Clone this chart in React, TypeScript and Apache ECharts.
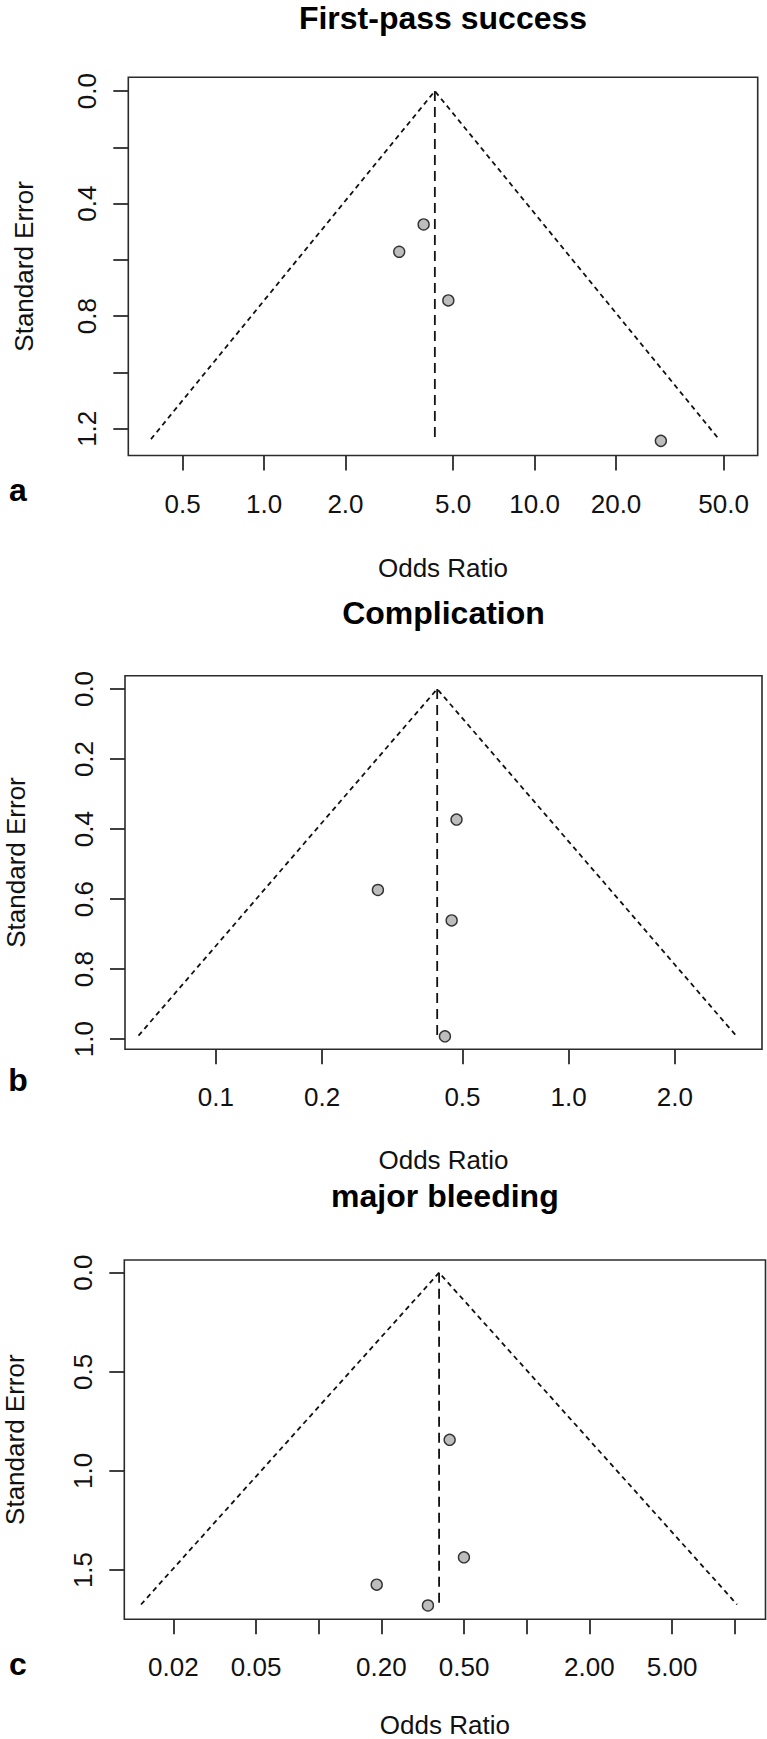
import React, { useEffect, useRef } from "react";
import * as echarts from "echarts";

// ---------- Data ----------
// Panel a: First-pass success
const orA = [3.89, 3.16, 4.8, 29.3];
const seA = [0.474, 0.571, 0.744, 1.243];
const funnelOrA = [0.382, 4.28, 48.0];
const funnelSeA = [1.237, 0, 1.237];
const xTicksA = [0.5, 1, 2, 5, 10, 20, 50];
const xLabelValsA = [0.5, 1, 2, 5, 10, 20, 50];
const xLabelsA = ["0.5", "1.0", "2.0", "5.0", "10.0", "20.0", "50.0"];
const yTicksA = [0, 0.2, 0.4, 0.6, 0.8, 1.0, 1.2];
const yLabelValsA = [0, 0.4, 0.8, 1.2];
const xRangeA = [0.315, 66.8];
const yRangeA = [-0.049, 1.295];

// Panel b: Complication
const orB = [0.481, 0.288, 0.466, 0.446];
const seB = [0.373, 0.574, 0.661, 0.992];
const funnelOrB = [0.0604, 0.424, 2.98];
const funnelSeB = [0.99, 0, 0.99];
const xTicksB = [0.1, 0.2, 0.5, 1, 2];
const xLabelValsB = [0.1, 0.2, 0.5, 1, 2];
const xLabelsB = ["0.1", "0.2", "0.5", "1.0", "2.0"];
const yTicksB = [0, 0.2, 0.4, 0.6, 0.8, 1.0];
const yLabelValsB = [0, 0.2, 0.4, 0.6, 0.8, 1.0];
const xRangeB = [0.0553, 3.53];
const yRangeB = [-0.038, 1.029];

// Panel c: major bleeding
const orC = [0.426, 0.499, 0.19, 0.335];
const seC = [0.843, 1.436, 1.574, 1.679];
const funnelOrC = [0.01398, 0.379, 10.26];
const funnelSeC = [1.674, 0, 1.674];
const xTicksC = [0.02, 0.05, 0.1, 0.2, 0.5, 1, 2, 5, 10];
const xLabelValsC = [0.02, 0.05, 0.2, 0.5, 2, 5];
const xLabelsC = ["0.02", "0.05", "0.20", "0.50", "2.00", "5.00"];
const yTicksC = [0, 0.5, 1.0, 1.5];
const yLabelValsC = [0, 0.5, 1.0, 1.5];
const xRangeC = [0.01162, 14.06];
const yRangeC = [-0.0641, 1.7487];

const titles = ["First-pass success", "Complication", "major bleeding"];
const letters = ["a", "b", "c"];
const xTitle = "Odds Ratio";
const yTitle = "Standard Error";

// ---------- Layout ----------
const FONT = "'Liberation Sans', Arial, sans-serif";
const W = 767;
const H = 1739;

const panels = [
  {
    grid: { left: 128.3, top: 77.3, width: 629.4, height: 378.2 },
    titleY: 18, xTitleY: 568, yTitleX: 24, letterY: 490,
    or: orA, se: seA, fOr: funnelOrA, fSe: funnelSeA,
    xTicks: xTicksA, xLabelVals: xLabelValsA, xLabels: xLabelsA,
    yTicks: yTicksA, yLabelVals: yLabelValsA, xRange: xRangeA, yRange: yRangeA,
  },
  {
    grid: { left: 125, top: 675.7, width: 637, height: 373.6 },
    titleY: 613, xTitleY: 1160, yTitleX: 16, letterY: 1080,
    or: orB, se: seB, fOr: funnelOrB, fSe: funnelSeB,
    xTicks: xTicksB, xLabelVals: xLabelValsB, xLabels: xLabelsB,
    yTicks: yTicksB, yLabelVals: yLabelValsB, xRange: xRangeB, yRange: yRangeB,
  },
  {
    grid: { left: 124.3, top: 1260, width: 641.2, height: 359.3 },
    titleY: 1196, xTitleY: 1725, yTitleX: 15, letterY: 1664,
    or: orC, se: seC, fOr: funnelOrC, fSe: funnelSeC,
    xTicks: xTicksC, xLabelVals: xLabelValsC, xLabels: xLabelsC,
    yTicks: yTicksC, yLabelVals: yLabelValsC, xRange: xRangeC, yRange: yRangeC,
  },
];

const AXIS_COLOR = "#2b2b2b";

function buildOption() {
  const grids: any[] = [];
  const xAxes: any[] = [];
  const yAxes: any[] = [];
  const series: any[] = [];
  const graphics: any[] = [];

  panels.forEach((p, i) => {
    grids.push({
      left: p.grid.left,
      top: p.grid.top,
      width: p.grid.width,
      height: p.grid.height,
      show: true,
      borderColor: AXIS_COLOR,
      borderWidth: 1.6,
      backgroundColor: "transparent",
      containLabel: false,
      outerBoundsMode: "none",
    });
    // data axis (log scale)
    xAxes.push({
      type: "log",
      logBase: 10,
      gridIndex: i,
      min: p.xRange[0],
      max: p.xRange[1],
      show: false,
      axisLine: { onZero: false },
    });
    // tick/label axis in log10 space, aligned with the log axis
    const labelMap = p.xLabelVals.map((v) => Math.log10(v));
    xAxes.push({
      type: "value",
      gridIndex: i,
      position: "bottom",
      min: Math.log10(p.xRange[0]),
      max: Math.log10(p.xRange[1]),
      axisLine: { show: false, onZero: false },
      splitLine: { show: false },
      axisTick: {
        show: true,
        inside: false,
        length: 15,
        customValues: p.xTicks.map((v) => Math.log10(v)),
        lineStyle: { color: AXIS_COLOR, width: 1.8 },
      },
      axisLabel: {
        show: true,
        customValues: labelMap,
        margin: 35,
        fontSize: 26,
        fontFamily: FONT,
        color: "#111",
        formatter: (v: number) => {
          let best = 0;
          let bd = Infinity;
          labelMap.forEach((lv, k) => {
            const d = Math.abs(lv - v);
            if (d < bd) {
              bd = d;
              best = k;
            }
          });
          return p.xLabels[best];
        },
      },
    });
    yAxes.push({
      type: "value",
      gridIndex: i,
      position: "left",
      inverse: true,
      min: p.yRange[0],
      max: p.yRange[1],
      axisLine: { show: false, onZero: false },
      splitLine: { show: false },
      axisTick: {
        show: true,
        length: 15,
        customValues: p.yTicks,
        lineStyle: { color: AXIS_COLOR, width: 1.8 },
      },
      axisLabel: {
        show: true,
        customValues: p.yLabelVals,
        rotate: 90,
        margin: 28,
        fontSize: 26,
        fontFamily: FONT,
        color: "#111",
        formatter: (v: number) => v.toFixed(1),
      },
    });

    const xi = i * 2;
    // funnel (pseudo confidence region)
    series.push({
      type: "line",
      xAxisIndex: xi,
      yAxisIndex: i,
      data: p.fOr.map((o, k) => [o, p.fSe[k]]),
      symbol: "none",
      silent: true,
      lineStyle: { color: "#111", width: 1.8, type: [5, 4] },
      z: 2,
    });
    // reference line at the pooled estimate
    series.push({
      type: "line",
      xAxisIndex: xi,
      yAxisIndex: i,
      data: [
        [p.fOr[1], p.fSe[1]],
        [p.fOr[1], p.fSe[0]],
      ],
      symbol: "none",
      silent: true,
      lineStyle: { color: "#111", width: 1.8, type: [10, 6] },
      z: 2,
    });
    // studies
    series.push({
      type: "scatter",
      xAxisIndex: xi,
      yAxisIndex: i,
      data: p.or.map((o, k) => [o, p.se[k]]),
      symbol: "circle",
      symbolSize: 11,
      itemStyle: { color: "#bdbdbd", borderColor: "#333", borderWidth: 1.4, opacity: 1 },
      z: 5,
    });

    const cx = p.grid.left + p.grid.width / 2;
    const cy = p.grid.top + p.grid.height / 2;
    graphics.push({
      type: "text",
      x: cx,
      y: p.titleY,
      style: {
        text: titles[i],
        fontSize: 32,
        fontWeight: "bold",
        fontFamily: FONT,
        fill: "#000",
        align: "center",
        verticalAlign: "middle",
        textAlign: "center",
        textVerticalAlign: "middle",
      },
    });
    graphics.push({
      type: "text",
      x: cx,
      y: p.xTitleY,
      style: {
        text: xTitle,
        fontSize: 26,
        fontFamily: FONT,
        fill: "#111",
        align: "center",
        verticalAlign: "middle",
        textAlign: "center",
        textVerticalAlign: "middle",
      },
    });
    graphics.push({
      type: "text",
      x: p.yTitleX,
      y: cy,
      rotation: Math.PI / 2,
      style: {
        text: yTitle,
        fontSize: 26,
        fontFamily: FONT,
        fill: "#111",
        align: "center",
        verticalAlign: "middle",
        textAlign: "center",
        textVerticalAlign: "middle",
      },
    });
    graphics.push({
      type: "text",
      x: 18,
      y: p.letterY,
      style: {
        text: letters[i],
        fontSize: 32,
        fontWeight: "bold",
        fontFamily: FONT,
        fill: "#000",
        align: "center",
        verticalAlign: "middle",
        textAlign: "center",
        textVerticalAlign: "middle",
      },
    });
  });

  return {
    animation: false,
    backgroundColor: "#ffffff",
    grid: grids,
    xAxis: xAxes,
    yAxis: yAxes,
    series,
    graphic: { elements: graphics },
  };
}

export default function App() {
  const ref = useRef<HTMLDivElement>(null);
  useEffect(() => {
    if (!ref.current) return;
    const chart = echarts.init(ref.current, undefined, { renderer: "svg", width: W, height: H });
    chart.setOption(buildOption() as any);
    return () => chart.dispose();
  }, []);
  return (
    <div
      ref={ref}
      style={{ position: "absolute", left: 0, top: 0, width: W, height: H, background: "#fff" }}
    />
  );
}
